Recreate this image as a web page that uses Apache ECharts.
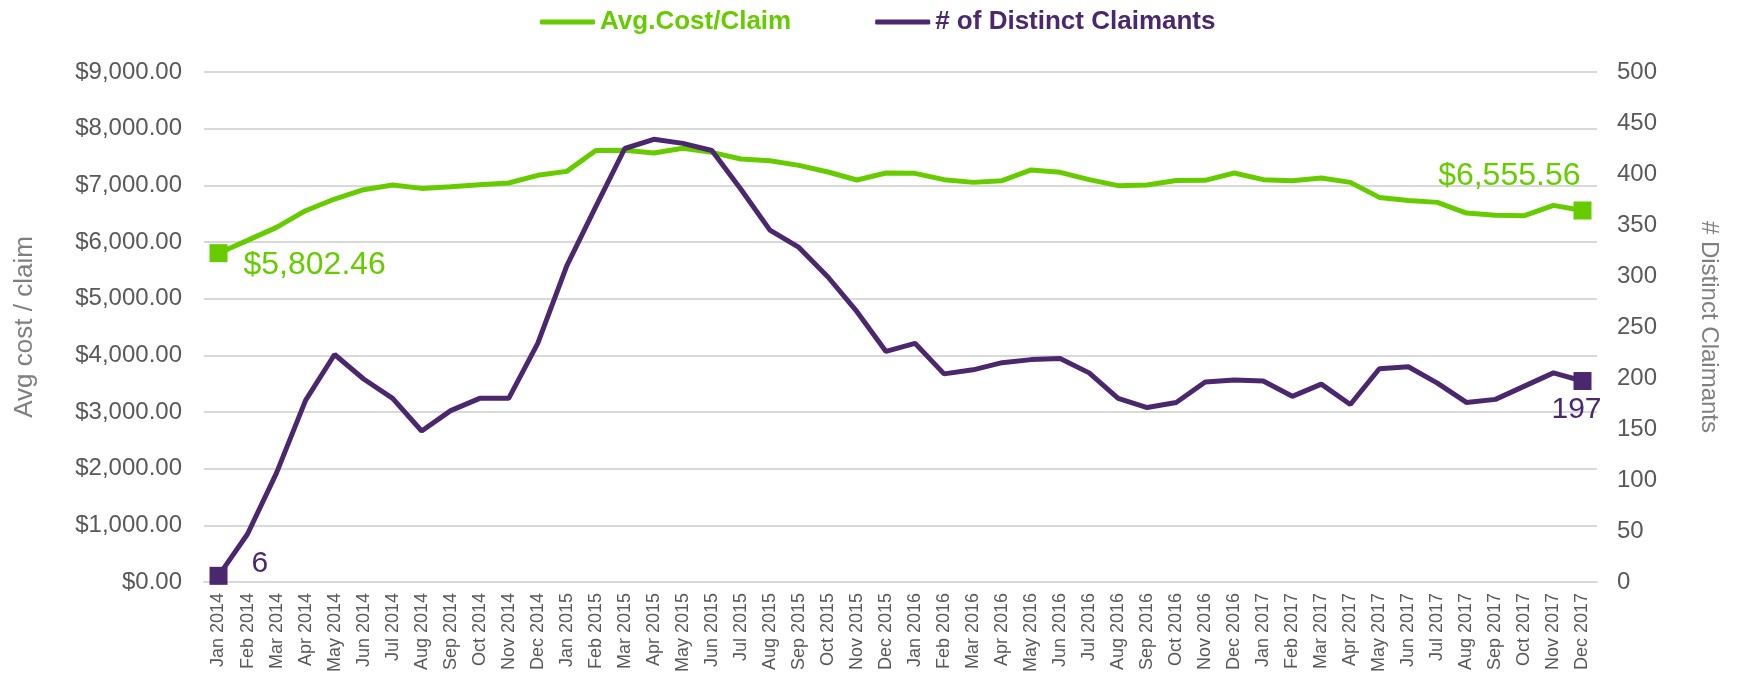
<!DOCTYPE html>
<html>
<head>
<meta charset="utf-8">
<script src="https://cdn.jsdelivr.net/npm/echarts@6/dist/echarts.min.js"></script>
<style>
    html, body { margin: 0; padding: 0; background: #fff; }
    #chart { width: 1741px; height: 675px; }
</style>
</head>
<body>
<div id="chart"></div>
<script>
const months = [
    'Jan 2014', 'Feb 2014', 'Mar 2014', 'Apr 2014', 'May 2014', 'Jun 2014',
    'Jul 2014', 'Aug 2014', 'Sep 2014', 'Oct 2014', 'Nov 2014', 'Dec 2014',
    'Jan 2015', 'Feb 2015', 'Mar 2015', 'Apr 2015', 'May 2015', 'Jun 2015',
    'Jul 2015', 'Aug 2015', 'Sep 2015', 'Oct 2015', 'Nov 2015', 'Dec 2015',
    'Jan 2016', 'Feb 2016', 'Mar 2016', 'Apr 2016', 'May 2016', 'Jun 2016',
    'Jul 2016', 'Aug 2016', 'Sep 2016', 'Oct 2016', 'Nov 2016', 'Dec 2016',
    'Jan 2017', 'Feb 2017', 'Mar 2017', 'Apr 2017', 'May 2017', 'Jun 2017',
    'Jul 2017', 'Aug 2017', 'Sep 2017', 'Oct 2017', 'Nov 2017', 'Dec 2017'
];
const avgCost = [
    5802.46, 6028, 6258, 6552, 6758, 6923, 7006, 6946, 6976, 7011, 7041, 7176,
    7246, 7613, 7618, 7571, 7653, 7582, 7464, 7435, 7352, 7235, 7094, 7218,
    7211, 7100, 7052, 7082, 7271, 7229, 7100, 6994, 7006, 7085, 7088, 7218,
    7100, 7082, 7129, 7052, 6787, 6734, 6699, 6511, 6470, 6464, 6646, 6555.56
];
const claimants = [
    6, 47, 107, 178, 223, 199, 180, 148, 168, 180, 180, 234,
    310, 368, 425, 434, 430, 423, 385, 345, 328, 299, 265, 226,
    234, 204, 208, 215, 218, 219, 205, 180, 171, 176, 196, 198,
    197, 182, 194, 174, 209, 211, 195, 176, 179, 192, 205, 197
];

const GREEN = '#66cc00';
const PURPLE = '#4b286d';
const FONT = 'Liberation Sans, Arial, sans-serif';

const money = v => '$' + Number(v).toFixed(2).replace(/\B(?=(\d{3})+(?!\d))/g, ',');

// only the first and last point get a square marker and a value label
const endPoints = (values, color, fmt, size, firstLabel, lastLabel) => values.map((v, i) => {
    if (i !== 0 && i !== values.length - 1) return v;
    const pos = i === 0 ? firstLabel : lastLabel;
    return {
        value: v,
        symbolSize: 18,
        label: {
            show: true,
            position: pos.position,
            offset: pos.offset,
            formatter: p => fmt(p.value),
            color: color,
            fontSize: size,
            fontFamily: FONT
        }
    };
});

const chart = echarts.init(document.getElementById('chart'));
const option = {
    animation: false,
    backgroundColor: '#fff',
    textStyle: { fontFamily: FONT },
    legend: {
        left: 535,
        top: 4,
        icon: 'roundRect',
        itemWidth: 55,
        itemHeight: 5,
        itemGap: 84,
        textStyle: { fontSize: 26, fontWeight: 'bold', fontFamily: FONT },
        data: [
            { name: 'Avg.Cost/Claim', textStyle: { color: GREEN } },
            { name: '# of Distinct Claimants', textStyle: { color: PURPLE } }
        ]
    },
    grid: { left: 204, right: 144, top: 72, bottom: 93 },
    xAxis: {
        type: 'category',
        data: months,
        axisLine: { lineStyle: { color: '#d9d9d9', width: 2 } },
        axisTick: { length: 5, lineStyle: { color: '#d9d9d9', width: 2 } },
        axisLabel: {
            interval: 0,
            rotate: 90,
            margin: 11,
            fontSize: 18,
            color: '#595959',
            fontFamily: FONT
        }
    },
    yAxis: [{
        type: 'value',
        min: 0,
        max: 9000,
        interval: 1000,
        name: 'Avg cost / claim',
        nameLocation: 'middle',
        nameGap: 166,
        nameTextStyle: { fontSize: 26, color: '#7f7f7f', fontFamily: FONT },
        axisLine: { show: false },
        axisTick: { show: false },
        axisLabel: { margin: 22, fontSize: 24, color: '#595959', formatter: money, fontFamily: FONT },
        splitLine: { lineStyle: { color: '#d9d9d9', width: 2 } }
    }, {
        type: 'value',
        min: 0,
        max: 500,
        interval: 50,
        name: '# Distinct Claimants',
        nameLocation: 'middle',
        nameRotate: -90,
        nameGap: 100,
        nameTextStyle: { fontSize: 24, color: '#7f7f7f', fontFamily: FONT },
        axisLine: { show: false },
        axisTick: { show: false },
        axisLabel: { margin: 20, fontSize: 24, color: '#595959', fontFamily: FONT },
        splitLine: { show: false }
    }],
    series: [{
        name: 'Avg.Cost/Claim',
        type: 'line',
        yAxisIndex: 0,
        symbol: 'rect',
        symbolSize: 0,
        showAllSymbol: true,
        color: GREEN,
        lineStyle: { color: GREEN, width: 5 },
        itemStyle: { color: GREEN },
        emphasis: { disabled: true },
        data: endPoints(avgCost, GREEN, money, 32,
            { position: 'right', offset: [11, 12] },
            { position: 'left', offset: [12, -34] })
    }, {
        name: '# of Distinct Claimants',
        type: 'line',
        yAxisIndex: 1,
        symbol: 'rect',
        symbolSize: 0,
        showAllSymbol: true,
        color: PURPLE,
        lineStyle: { color: PURPLE, width: 5 },
        itemStyle: { color: PURPLE },
        emphasis: { disabled: true },
        data: endPoints(claimants, PURPLE, v => String(v), 30,
            { position: 'right', offset: [19, -12] },
            { position: 'bottom', offset: [-6, 0] })
    }]
};
chart.setOption(option);
</script>
</body>
</html>
